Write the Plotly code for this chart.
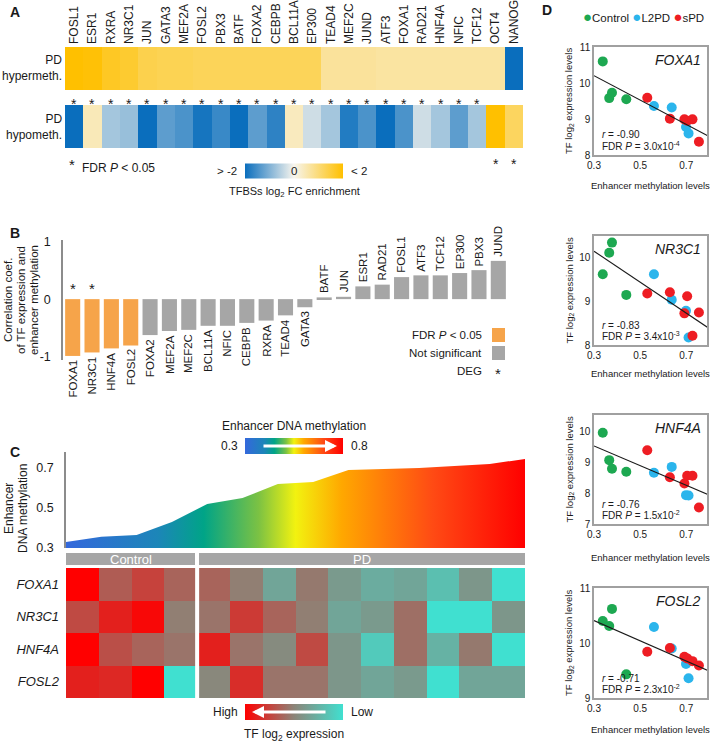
import numpy as np
import plotly.graph_objects as go

W, H = 710, 750
FONT = "Liberation Sans, Arial, sans-serif"
INK = "#1a1a1a"
AXIS = "#8c8c8c"
GREY = "#a6a6a6"
ORANGE = "#f6a44a"

# ── A: TFBS enrichment at PD differentially methylated enhancers ──
tfbs_names = ["FOSL1", "ESR1", "RXRA", "NR3C1", "JUN", "GATA3", "MEF2A", "FOSL2", "PBX3",
              "BATF", "FOXA2", "CEBPB", "BCL11A", "EP300", "TEAD4", "MEF2C", "JUND", "ATF3",
              "FOXA1", "RAD21", "HNF4A", "NFIC", "TCF12", "OCT4", "NANOG"]
hyper_log2fc = [2.0, 1.95, 1.7, 1.6, 1.35, 1.3, 1.3, 1.25, 1.25, 1.25, 1.25, 1.25, 1.25, 1.25,
                0.7, 0.7, 0.7, 0.65, 0.65, 0.65, 0.65, 0.65, 0.65, 0.65, -2.0]
hypo_log2fc = [-2.0, 0.45, -0.7, -0.8, -2.0, -1.3, -1.45, -1.9, -1.6, -2.0, -1.3, -1.7, 0.4,
               -0.35, -0.7, -1.8, -1.45, -2.0, -1.45, -0.35, -0.7, -1.3, -0.7, 2.0, 1.2]
hyper_fdr_sig = [1, 1, 1, 1, 1, 1, 1, 1, 1, 1, 1, 1, 1, 1, 1, 1, 1, 1, 1, 1, 1, 1, 1, 0, 0]
hypo_fdr_sig = [0, 0, 0, 0, 0, 0, 0, 0, 0, 0, 0, 0, 0, 0, 0, 0, 0, 0, 0, 0, 0, 0, 0, 1, 1]

# ── B: correlation of TF expression with enhancer methylation ──
corr_tf = ["FOXA1", "NR3C1", "HNF4A", "FOSL2", "FOXA2", "MEF2A", "MEF2C", "BCL11A", "NFIC",
           "CEBPB", "RXRA", "TEAD4", "GATA3", "BATF", "JUN", "ESR1", "RAD21", "FOSL1", "ATF3",
           "TCF12", "EP300", "PBX3", "JUND"]
corr_coef = [-0.98, -0.92, -0.85, -0.80, -0.62, -0.55, -0.53, -0.46, -0.46, -0.41, -0.37,
             -0.28, -0.14, 0.03, 0.04, 0.22, 0.25, 0.38, 0.41, 0.41, 0.45, 0.50, 0.66]
corr_fdr_sig = [1, 1, 1, 1, 0, 0, 0, 0, 0, 0, 0, 0, 0, 0, 0, 0, 0, 0, 0, 0, 0, 0, 0]
corr_deg = [1, 1, 0, 0, 0, 0, 0, 0, 0, 0, 0, 0, 0, 0, 0, 0, 0, 0, 0, 0, 0, 0, 0]

# ── C: samples ordered by enhancer methylation ──
c_groups = ["Control", "PD"]
c_group_size = [4, 10]
enh_meth_sorted = [0.33, 0.356, 0.365, 0.43, 0.52, 0.55, 0.62, 0.63, 0.69, 0.695, 0.70,
                   0.71, 0.72, 0.745]
heat_genes = ["FOXA1", "NR3C1", "HNF4A", "FOSL2"]
# relative TF log2 expression (0 = low, 1 = high)
heat_expr = [
    [1.00, 0.65, 0.75, 0.62, 0.62, 0.52, 0.32, 0.54, 0.38, 0.28, 0.32, 0.18, 0.40, 0.00],
    [0.72, 0.88, 0.97, 0.52, 0.56, 0.78, 0.62, 0.52, 0.32, 0.38, 0.58, 0.00, 0.00, 0.40],
    [1.00, 0.70, 0.62, 0.56, 0.88, 0.56, 0.46, 0.72, 0.40, 0.12, 0.58, 0.25, 0.54, 0.00],
    [0.88, 0.85, 1.00, 0.00, 0.48, 0.83, 0.56, 0.56, 0.40, 0.32, 0.38, 0.00, 0.32, 0.32],
]

# ── D: per-sample scatter ──
sample_meth = [0.338, 0.366, 0.378, 0.440, 0.531, 0.560, 0.629, 0.637, 0.692, 0.699, 0.704,
               0.710, 0.727, 0.755]
sample_group = ["Control", "Control", "Control", "Control", "sPD", "L2PD", "sPD", "L2PD",
                "sPD", "L2PD", "sPD", "L2PD", "sPD", "sPD"]
foxa1_expr = [10.60, 9.58, 9.73, 9.55, 9.59, 9.36, 9.01, 9.32, 8.99, 8.78, 8.95, 8.60, 8.99, 8.37]
nr3c1_expr = [9.61, 10.10, 10.33, 9.14, 9.17, 9.61, 9.20, 9.03, 8.72, 8.78, 9.11, 8.17, 8.21, 8.74]
hnf4a_expr = [9.97, 9.08, 8.80, 8.70, 9.40, 8.67, 8.52, 8.86, 8.32, 7.94, 8.57, 7.93, 8.57, 7.54]
fosl2_expr = [10.40, 10.31, 10.62, 9.43, 9.84, 10.29, 9.91, 9.90, 9.75, 9.62, 9.72, 9.36, 9.67, 9.59]
d_genes = ["FOXA1", "NR3C1", "HNF4A", "FOSL2"]
d_r = ["-0.90", "-0.83", "-0.76", "-0.71"]
d_fdr = ["3.0", "3.4", "1.5", "2.3"]
d_fdr_exp = ["-4", "-3", "-2", "-2"]
d_yrange = [[8, 11], [8, 10.48], [7, 10.55], [9, 11]]
d_yticks = [[8, 9, 10, 11], [8, 9, 10], [7, 8, 9, 10], [9, 10, 11]]

group_colors = {"Control": "#1da851", "L2PD": "#2bb5ec", "sPD": "#ee1d23"}
fc_scale = [[0, "#0a6ebd"], [0.5, "#f7f5ee"], [1, "#ffc000"]]
meth_scale = [[0.0, "#3468dc"], [0.2, "#1c86b8"], [0.3, "#00a487"], [0.42, "#7cc243"],
              [0.5, "#f2f210"], [0.6, "#ffa800"], [0.8, "#ff4a14"], [1.0, "#ff0000"]]
expr_scale = [[0, "#40e0d0"], [0.5, "#8c8478"], [1, "#ff0000"]]


def dom_x(a, b):
    return [a / W, b / W]


def dom_y(top, bottom):
    return [1 - bottom / H, 1 - top / H]


fig = go.Figure()


def note(x, y, text, size=12, xanchor="center", yanchor="middle", angle=0, color=INK, **kw):
    fig.add_annotation(x=x / W, y=1 - y / H, xref="paper", yref="paper", text=text,
                       showarrow=False, xanchor=xanchor, yanchor=yanchor, textangle=angle,
                       font=dict(family=FONT, size=size, color=color), **kw)


def hbar(cx, cy, scale, reverse=False):
    # invisible trace that only carries a horizontal colour key
    fig.add_trace(go.Scatter(
        x=[None, None], y=[None, None], mode="markers", xaxis="x3", yaxis="y3",
        marker=dict(color=[0, 1], cmin=0, cmax=1, colorscale=scale, reversescale=reverse,
                    showscale=True,
                    colorbar=dict(orientation="h", x=cx / W, xanchor="center", y=1 - cy / H,
                                  yanchor="middle", len=98, lenmode="pixels", thickness=16,
                                  outlinewidth=0, showticklabels=False, ticks="",
                                  xpad=0, ypad=0)),
        hoverinfo="skip"))


# ── A ──
fig.add_trace(go.Heatmap(
    z=[hyper_log2fc], x=tfbs_names, y=["hyper"], xaxis="x", yaxis="y",
    colorscale=fc_scale, zmin=-2, zmax=2,
    colorbar=dict(orientation="h", x=294 / W, xanchor="center", y=1 - 170.5 / H,
                  yanchor="middle", len=98, lenmode="pixels", thickness=15, outlinewidth=0,
                  showticklabels=False, ticks="", xpad=0, ypad=0)))
fig.add_trace(go.Heatmap(
    z=[hypo_log2fc], x=tfbs_names, y=["hypo"], xaxis="x", yaxis="y9",
    colorscale=fc_scale, zmin=-2, zmax=2, showscale=False))
for name, s1, s2 in zip(tfbs_names, hyper_fdr_sig, hypo_fdr_sig):
    if s1:
        fig.add_annotation(x=name, xref="x", y=1 - 94 / H, yref="paper", text="*",
                           showarrow=False, font=dict(family=FONT, size=14, color=INK))
    if s2:
        fig.add_annotation(x=name, xref="x", y=1 - 154 / H, yref="paper", text="*",
                           showarrow=False, font=dict(family=FONT, size=14, color=INK))

note(8, 12, "<b>A</b>", size=14, xanchor="left")
note(64, 68, "PD<br>hypermeth.", size=12, xanchor="right", align="right")
note(64, 127, "PD<br>hypometh.", size=12, xanchor="right", align="right")
note(72, 165, "*", size=15)
note(80, 168, "FDR <i>P</i> &lt; 0.05", size=12, xanchor="left")
note(239, 171, "&gt; -2", size=11.5, xanchor="right")
note(294, 171, "0", size=11.5)
note(349, 171, "&lt; 2", size=11.5, xanchor="left")
note(294, 192, "TFBSs log<sub>2</sub> FC enrichment", size=11)

# ── B ──
fig.add_trace(go.Bar(
    x=corr_tf, y=corr_coef, xaxis="x2", yaxis="y2", width=0.78,
    marker=dict(color=[ORANGE if s else GREY for s in corr_fdr_sig], line_width=0)))
for name, val, deg in zip(corr_tf, corr_coef, corr_deg):
    neg = val < 0
    fig.add_annotation(x=name, y=val, xref="x2", yref="y2", text=name, showarrow=False,
                       textangle=-90, yanchor="top" if neg else "bottom",
                       yshift=-2 if neg else 2, font=dict(family=FONT, size=11.5, color=INK))
    if deg:
        fig.add_annotation(x=name, y=0, xref="x2", yref="y2", text="*", showarrow=False,
                           yanchor="bottom", yshift=0,
                           font=dict(family=FONT, size=15, color=INK))

note(8, 233, "<b>B</b>", size=14, xanchor="left")
note(8, 300, "Correlation coef.", size=11.5, angle=-90)
note(21, 300, "of TF expression and", size=11.5, angle=-90)
note(34, 300, "enhancer methylation", size=11.5, angle=-90)
note(484, 335, "FDR <i>P</i> &lt; 0.05", size=11.5, xanchor="right")
note(484, 353, "Not significant", size=11.5, xanchor="right")
note(484, 371, "DEG", size=11.5, xanchor="right")
note(498, 373, "*", size=15)
fig.add_shape(type="rect", xref="paper", yref="paper", x0=492 / W, x1=505 / W,
              y0=1 - 342 / H, y1=1 - 328 / H, fillcolor=ORANGE, line_width=0)
fig.add_shape(type="rect", xref="paper", yref="paper", x0=492 / W, x1=505 / W,
              y0=1 - 360 / H, y1=1 - 346 / H, fillcolor=GREY, line_width=0)

# ── C ──
sample_idx = list(range(1, len(enh_meth_sorted) + 1))
fig.add_trace(go.Scatter(
    x=sample_idx, y=enh_meth_sorted, xaxis="x3", yaxis="y3", mode="lines",
    line=dict(width=0, color="rgba(0,0,0,0)"), fill="tozeroy",
    fillgradient=dict(type="horizontal", colorscale=meth_scale), hoverinfo="skip"))
fig.add_trace(go.Heatmap(
    z=heat_expr, x=list(range(len(heat_expr[0]))), y=heat_genes, xaxis="x4", yaxis="y4",
    colorscale=expr_scale, zmin=0, zmax=1, showscale=False))
fig.add_shape(type="line", xref="x4", yref="paper", x0=c_group_size[0] - 0.5,
              x1=c_group_size[0] - 0.5, y0=1 - 700 / H, y1=1 - 566 / H,
              line=dict(color="white", width=4))
# group bars
fig.add_shape(type="rect", xref="paper", yref="paper", x0=66 / W, x1=195 / W,
              y0=1 - 565 / H, y1=1 - 553 / H, fillcolor=GREY, line_width=0)
fig.add_shape(type="rect", xref="paper", yref="paper", x0=199 / W, x1=525 / W,
              y0=1 - 565 / H, y1=1 - 553 / H, fillcolor=GREY, line_width=0)
note(131, 559, c_groups[0], size=13, color="white")
note(362, 559, c_groups[1], size=13, color="white")

hbar(294, 446, meth_scale)
hbar(294, 712, expr_scale, reverse=True)
fig.add_annotation(x=337 / W, y=1 - 446 / H, ax=-75, ay=0, xref="paper", yref="paper",
                   showarrow=True, arrowhead=2, arrowsize=0.8, arrowwidth=3, arrowcolor="white",
                   text="")
fig.add_annotation(x=252 / W, y=1 - 712 / H, ax=75, ay=0, xref="paper", yref="paper",
                   showarrow=True, arrowhead=2, arrowsize=0.8, arrowwidth=3, arrowcolor="white",
                   text="")
note(8, 452, "<b>C</b>", size=14, xanchor="left")
note(294, 426, "Enhancer DNA methylation", size=12)
note(240, 446, "0.3", size=12, xanchor="right")
note(349, 446, "0.8", size=12, xanchor="left")
note(9, 509, "Enhancer", size=12, angle=-90)
note(23, 509, "DNA methylation", size=12, angle=-90)
note(240, 712, "High", size=12, xanchor="right")
note(349, 712, "Low", size=12, xanchor="left")
note(294, 735, "TF log<sub>2</sub> expression", size=12)

# ── D ──
d_expr = [foxa1_expr, nr3c1_expr, hnf4a_expr, fosl2_expr]
d_boxes = [(47, 155), (236, 345), (415, 524), (588, 698)]
d_xtitle_y = [185, 374, 557, 729]
xs = np.array(sample_meth)
for k, expr in enumerate(d_expr):
    ax_id = k + 5
    xa, ya = "x%d" % ax_id, "y%d" % ax_id
    for grp in ["Control", "L2PD", "sPD"]:
        gx = [m for m, g in zip(sample_meth, sample_group) if g == grp]
        gy = [e for e, g in zip(expr, sample_group) if g == grp]
        fig.add_trace(go.Scatter(x=gx, y=gy, mode="markers", xaxis=xa, yaxis=ya,
                                 marker=dict(size=10, color=group_colors[grp], line_width=0)))
    slope, icpt = np.polyfit(xs, np.array(expr), 1)
    fx = np.array([0.3, 0.8])
    fig.add_trace(go.Scatter(x=fx, y=slope * fx + icpt, mode="lines", xaxis=xa, yaxis=ya,
                             line=dict(color="#1a1a1a", width=1.1), hoverinfo="skip"))
    top, bot = d_boxes[k]
    note(703, top + 13, "<i>%s</i>" % d_genes[k], size=14, xanchor="right")
    note(600, bot - 20, "<i>r</i> = %s" % d_r[k], size=10, xanchor="left")
    note(600, bot - 9, "FDR <i>P</i> = %sx10<sup>%s</sup>" % (d_fdr[k], d_fdr_exp[k]),
         size=10, xanchor="left")
    note(569, (top + bot) / 2, "TF log<sub>2</sub> expression levels", size=9.5, angle=-90)
    note(650, d_xtitle_y[k], "Enhancer methylation levels", size=9.5)

note(547, 10, "<b>D</b>", size=14)
legend_txt = " ".join(
    "<span style='color:%s;font-size:15px'>●</span>%s" % (group_colors[g], g)
    for g in ["Control", "L2PD", "sPD"])
note(643, 17, legend_txt, size=11.5)

axis_off = dict(showgrid=False, zeroline=False, showticklabels=False, ticks="", showline=False,
                automargin=False)
layout = dict(
    width=W, height=H, margin=dict(l=0, r=0, t=0, b=0, autoexpand=False), showlegend=False,
    paper_bgcolor="white", plot_bgcolor="white", bargap=0.2,
    font=dict(family=FONT, color=INK),
    xaxis=dict(domain=dom_x(65, 523), anchor="y", side="top", tickangle=-90, type="category",
               tickfont=dict(size=12), showgrid=False, ticks="", showline=False, zeroline=False,
               automargin=False, ticklabelstandoff=2),
    yaxis=dict(domain=dom_y(47, 90), anchor="x", **axis_off),
    yaxis9=dict(domain=dom_y(105, 148), anchor="x", **axis_off),
    xaxis2=dict(domain=dom_x(63, 508), anchor="y2", range=[-0.5, len(corr_tf) - 0.5],
                **axis_off),
    yaxis2=dict(domain=dom_y(240, 360), anchor="x2", range=[-1.05, 1.02], tickvals=[-1, 0, 1],
                ticktext=["-1", "0", "1"], showline=True, linecolor=AXIS, linewidth=1.5,
                showgrid=False, zeroline=False, ticks="", tickfont=dict(size=12.5),
                ticklabelstandoff=8, automargin=False),
    xaxis3=dict(domain=dom_x(66, 525), anchor="y3", range=[1, len(enh_meth_sorted)],
                **axis_off),
    yaxis3=dict(domain=dom_y(452, 548), anchor="x3", range=[0.3, 0.78],
                tickvals=[0.3, 0.5, 0.7], showline=True, linecolor=AXIS, linewidth=1.5,
                showgrid=False, zeroline=False, ticks="", tickfont=dict(size=12.5),
                ticklabelstandoff=8, automargin=False),
    xaxis4=dict(domain=dom_x(66, 525), anchor="y4", range=[-0.5, len(heat_expr[0]) - 0.5],
                **axis_off),
    yaxis4=dict(domain=dom_y(568, 698), anchor="x4", type="category", autorange="reversed",
                tickvals=heat_genes, ticktext=["<i>%s</i>" % g for g in heat_genes],
                tickfont=dict(size=13), showgrid=False, zeroline=False, ticks="",
                showline=False, ticklabelstandoff=6, automargin=False),
)
for k in range(4):
    ax_id = k + 5
    top, bot = d_boxes[k]
    layout["xaxis%d" % ax_id] = dict(
        domain=dom_x(594, 707), anchor="y%d" % ax_id, range=[0.3, 0.79],
        tickvals=[0.3, 0.5, 0.7], ticktext=["0.3", "0.5", "0.7"], showline=True, mirror=True,
        linecolor="#a0a0a0", linewidth=1.5, showgrid=False, zeroline=False, ticks="",
        tickfont=dict(size=10), automargin=False)
    layout["yaxis%d" % ax_id] = dict(
        domain=dom_y(top, bot), anchor="x%d" % ax_id, range=d_yrange[k],
        tickvals=d_yticks[k], showline=True, mirror=True, linecolor="#a0a0a0", linewidth=1.5,
        showgrid=False, zeroline=False, ticks="", tickfont=dict(size=10), automargin=False)
fig.update_layout(**layout)

fig.write_html("out.html", config={"displayModeBar": False},
               post_script="document.body.style.margin='0';")
